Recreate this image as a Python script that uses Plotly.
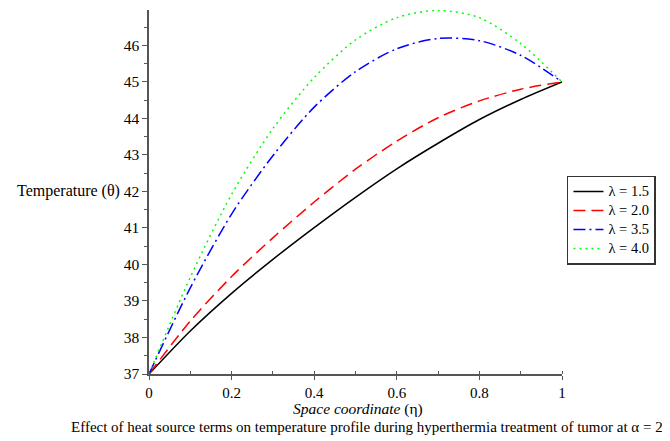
import plotly.graph_objects as go

eta = [0.0, 0.1, 0.2, 0.3, 0.4, 0.5, 0.6, 0.7, 0.8, 0.9, 1.0]
theta_l15 = [37.0, 38.18, 39.21, 40.14, 41.01, 41.84, 42.62, 43.32, 43.97, 44.52, 45.0]
theta_l20 = [37.0, 38.45, 39.67, 40.73, 41.71, 42.61, 43.38, 44.02, 44.48, 44.80, 45.0]
theta_l35 = [37.0, 39.36, 41.38, 42.98, 44.31, 45.28, 45.91, 46.19, 46.13, 45.73, 45.0]
theta_l40 = [37.0, 39.65, 41.92, 43.72, 45.12, 46.15, 46.76, 46.96, 46.76, 46.05, 45.0]

series_names = ["λ = 1.5", "λ = 2.0", "λ = 3.5", "λ = 4.0"]
series_vals = [theta_l15, theta_l20, theta_l35, theta_l40]
x_tickvals = [0, 0.2, 0.4, 0.6, 0.8, 1]
x_ticktext = ["0", "0.2", "0.4", "0.6", "0.8", "1"]
y_tickvals = [37, 38, 39, 40, 41, 42, 43, 44, 45, 46]

colors = ["#000000", "#ff0000", "#0000ff", "#00ff00"]
dashes = ["solid", "12px,6px", "12px,4px,2px,4px", "2px,4px"]

FONT = "Liberation Serif"

fig = go.Figure()
for name, vals, c, d in zip(series_names, series_vals, colors, dashes):
    fig.add_trace(go.Scatter(
        x=eta, y=vals, mode="lines",
        name="<span style='font-size:14.5px'>" + name + "</span>",
        line=dict(color=c, dash=d, width=1.5, shape="spline", smoothing=0.8),
    ))

fig.update_layout(
    width=662, height=433,
    margin=dict(l=141, r=108, t=2, b=67),
    plot_bgcolor="white", paper_bgcolor="white",
    font=dict(family=FONT, size=15, color="black"),
    showlegend=True,
    legend=dict(
        x=1.012, y=0.545, xanchor="left", yanchor="top",
        bordercolor="#333333", borderwidth=1.5, bgcolor="white",
        font=dict(family=FONT, size=11.5), tracegroupgap=0,
    ),
    xaxis=dict(
        range=[0, 1], tickvals=x_tickvals, ticktext=x_ticktext,
        showline=True, linecolor="#555555", linewidth=1.5,
        ticks="outside", ticklen=4, tickcolor="#555555", tickwidth=1.2,
        minor=dict(dtick=0.1, ticks="inside", ticklen=3, tickcolor="#555555", tickwidth=1.2),
        showgrid=False, zeroline=False, ticklabelstandoff=0,
        tickfont=dict(family=FONT, size=15),
    ),
    yaxis=dict(
        range=[37, 46.97], tickvals=y_tickvals,
        showline=True, linecolor="#555555", linewidth=1.5,
        ticks="outside", ticklen=5, tickcolor="#555555", tickwidth=1.2,
        minor=dict(dtick=0.5, ticks="outside", ticklen=3, tickcolor="#555555", tickwidth=1.2),
        showgrid=False, zeroline=False,
        tickfont=dict(family=FONT, size=15.5),
    ),
)

fig.add_annotation(
    text="Temperature (θ)", xref="paper", yref="y", x=-0.065, y=42,
    xanchor="right", yanchor="middle", showarrow=False,
    font=dict(family=FONT, size=16),
)
fig.add_annotation(
    text="<i>Space coordinate</i> (η)", xref="paper", yref="paper", x=0.506, y=-0.096,
    xanchor="center", yanchor="middle", showarrow=False,
    font=dict(family=FONT, size=15.5),
)
fig.add_annotation(
    text="Effect of heat source terms on temperature profile during hyperthermia treatment of tumor at α = 2",
    xref="paper", yref="paper", x=0.528, y=-0.146,
    xanchor="center", yanchor="middle", showarrow=False,
    font=dict(family=FONT, size=15),
)

fig.write_html("out.html")
